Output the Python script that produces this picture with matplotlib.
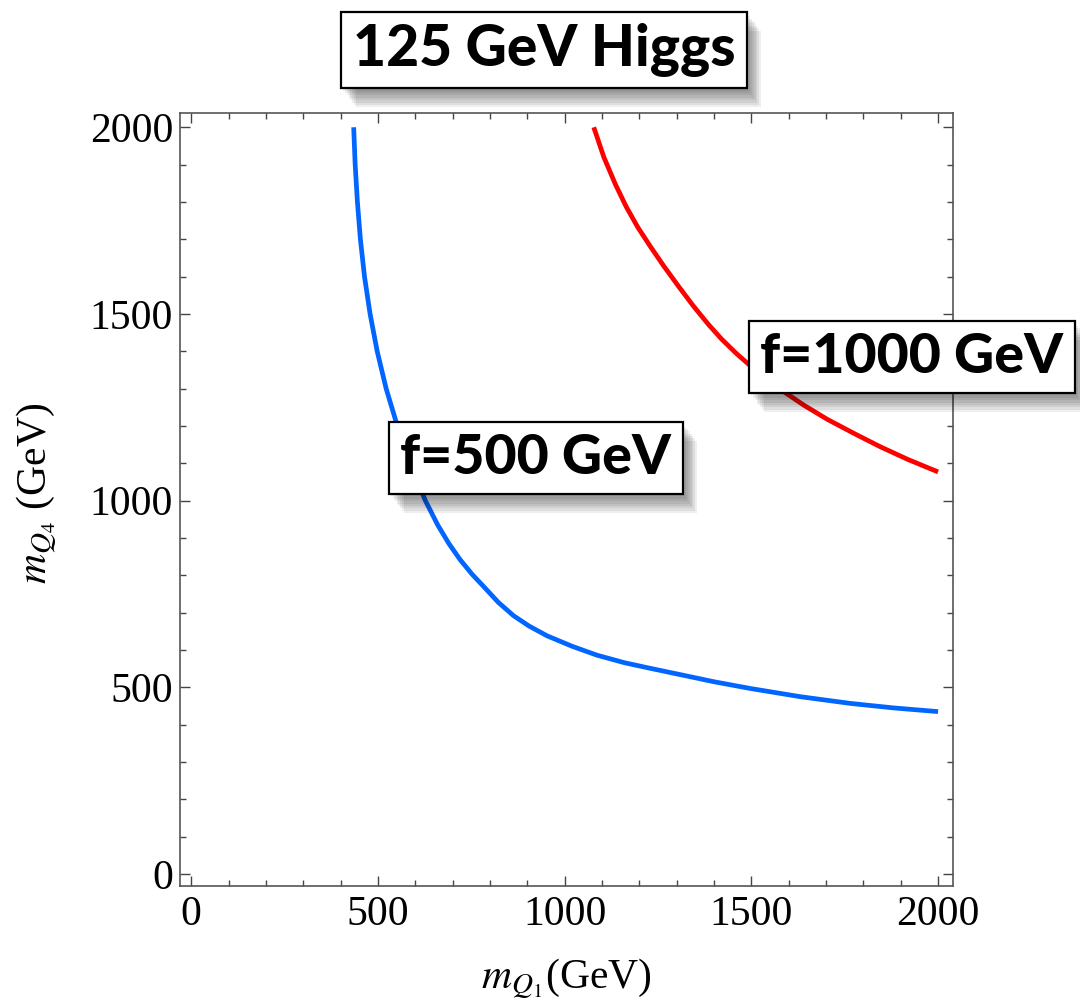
import numpy as np
import matplotlib
matplotlib.use("Agg")
import matplotlib.pyplot as plt
import matplotlib.patheffects as pe
from matplotlib.ticker import MultipleLocator

plt.rcParams['font.family'] = ['Liberation Serif', 'DejaVu Serif']
plt.rcParams['mathtext.fontset'] = 'stix'

# f = 500 GeV contour (m_Q1, m_Q4)
f500_mq1 = [435, 439, 445, 453, 464, 479, 498, 522, 552, 587, 627, 660, 690, 720,
            752, 785, 822, 863, 905, 953, 1020, 1087, 1160, 1229, 1310, 1400,
            1497, 1631, 1765, 1880, 2000]
f500_mq4 = [2000, 1900, 1800, 1700, 1600, 1500, 1400, 1300, 1200, 1100, 1000, 935,
            885, 842, 803, 768, 728, 692, 664, 638, 610, 586, 566, 551, 534, 515,
            497, 475, 457, 445, 435]

# f = 1000 GeV contour
f1000_mq1 = [1078, 1105, 1136, 1165, 1196, 1230, 1265, 1305, 1345, 1385, 1420,
             1460, 1510, 1578, 1640, 1703, 1775, 1846, 1920, 2000]
f1000_mq4 = [2000, 1920, 1847, 1787, 1732, 1680, 1629, 1574, 1521, 1472, 1433,
             1394, 1350, 1298, 1256, 1218, 1180, 1144, 1110, 1077]

xticks = [0, 500, 1000, 1500, 2000]
yticks = [0, 500, 1000, 1500, 2000]

fig = plt.figure(figsize=(10.8, 10.01), dpi=100)
ax = fig.add_axes([0.1667, 0.1149, 0.8824 - 0.1667, 0.8874 - 0.1149])

ax.plot(f500_mq1, f500_mq4, color='#0066ff', lw=3.4, solid_capstyle='butt',
        solid_joinstyle='round')
ax.plot(f1000_mq1, f1000_mq4, color='#ff0000', lw=3.4, solid_capstyle='butt',
        solid_joinstyle='round')

ax.set_xlim(-30, 2040)
ax.set_ylim(-32, 2039)
ax.set_xticks(xticks)
ax.set_yticks(yticks)
ax.xaxis.set_minor_locator(MultipleLocator(100))
ax.yaxis.set_minor_locator(MultipleLocator(100))
ax.tick_params(which='both', direction='in', top=True, right=True,
               width=1, color='#444444', labelsize=30)
ax.tick_params(which='major', length=7.5)
ax.tick_params(which='minor', length=4.3)
ax.tick_params(axis='x', pad=7)
ax.tick_params(axis='y', pad=5)
for s in ax.spines.values():
    s.set_color('#555555')
    s.set_linewidth(1.2)

fig.text(566 / 1080, 1 - 988 / 1001, r'$m_{Q_1}$(GeV)', fontsize=30,
         ha='center', va='baseline')
fig.text(37 / 1080, 1 - 493 / 1001, r'$m_{Q_4}$ (GeV)', fontsize=30,
         ha='center', va='center', rotation=90)

# boxed labels with soft drop shadow
shadow = [pe.SimplePatchShadow(offset=(1.3 * i, -1.7 * i), shadow_rgbFace='black',
                               alpha=0.065) for i in range(1, 9)] + [pe.Normal()]


def boxed(x, y, txt, size):
    t = fig.text(x, y, txt, fontsize=size, fontfamily='Lato', fontweight='black',
                 ha='center', va='center', zorder=10,
                 bbox=dict(boxstyle='square,pad=0.2', fc='white', ec='black', lw=1.6))
    t.get_bbox_patch().set_path_effects(shadow)
    return t


boxed(544 / 1080, 1 - 50 / 1001, '125 GeV Higgs', 41)
boxed(912 / 1080, 1 - 357 / 1001, 'f=1000 GeV', 40)
boxed(536 / 1080, 1 - 458 / 1001, 'f=500 GeV', 40)

fig.savefig('out.png', dpi=100, facecolor='white')
